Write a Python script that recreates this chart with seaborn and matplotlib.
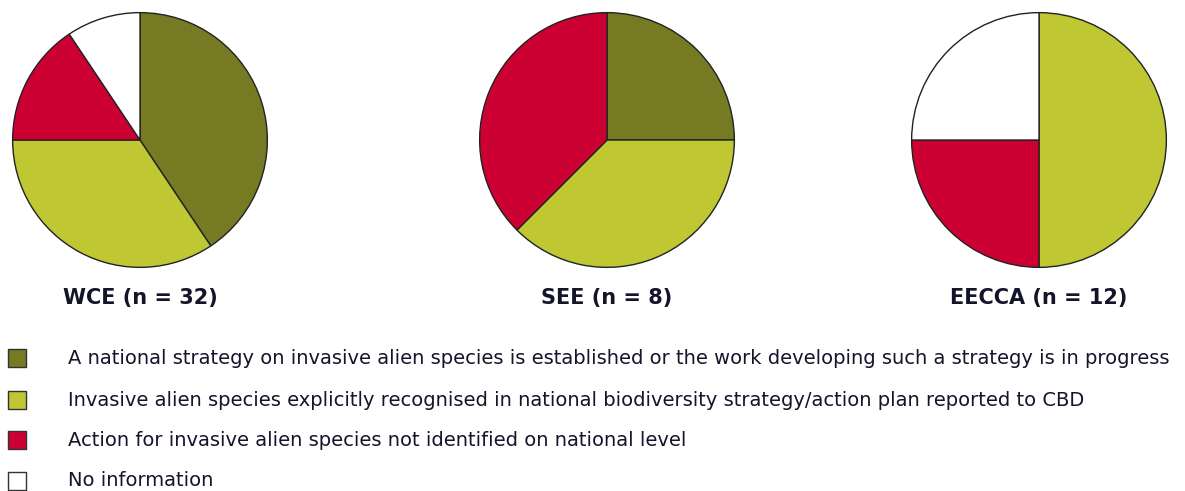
import matplotlib
matplotlib.use("Agg")
import matplotlib.pyplot as plt
import seaborn as sns

# Data
regions = ["WCE (n = 32)", "SEE (n = 8)", "EECCA (n = 12)"]
categories = [
    "A national strategy on invasive alien species is established or the work developing such a strategy is in progress",
    "Invasive alien species explicitly recognised in national biodiversity strategy/action plan reported to CBD",
    "Action for invasive alien species not identified on national level",
    "No information",
]
wce = [13, 11, 5, 3]
see = [2, 3, 3, 0]
eecca = [0, 6, 3, 3]
colors = ["#767a22", "#bfc733", "#cc0033", "#ffffff"]

sns.set_theme(style="white")
plt.rcParams['font.family'] = ['DejaVu Sans']
text_color = "#14142a"

W, H = 1185, 491
fig = plt.figure(figsize=(W / 100, H / 100), dpi=100)

# pie centres (px) and radius
centres = [140, 607, 1039]
cy = 140
r = 128

for name, vals, cx in zip(regions, [wce, see, eecca], centres):
    ax = fig.add_axes([(cx - r) / W, 1 - (cy + r) / H, 2 * r / W, 2 * r / H])
    vv = [v for v in vals if v > 0]
    cc = [c for v, c in zip(vals, colors) if v > 0]
    ax.pie(vv, colors=cc, startangle=90, counterclock=False, radius=1,
           wedgeprops=dict(edgecolor="#222222", linewidth=1.0))
    ax.set_xlim(-1.005, 1.005)
    ax.set_ylim(-1.005, 1.005)
    ax.set_aspect("equal")
    fig.text(cx / W, 1 - 298 / H, name, ha="center", va="center",
             fontsize=15, fontweight="bold", color=text_color)

# Legend
leg_y = [358, 400, 440, 481]
lax = fig.add_axes([0, 0, 1, 1])
lax.set_xlim(0, W)
lax.set_ylim(H, 0)
lax.axis("off")
for lab, col, y in zip(categories, colors, leg_y):
    lax.scatter([17], [y], marker="s", s=150, color=col,
                edgecolor="#333333", linewidth=1)
    lax.text(68, y, lab, ha="left", va="center", fontsize=14,
             color=text_color)

plt.savefig("out.png", dpi=100)
